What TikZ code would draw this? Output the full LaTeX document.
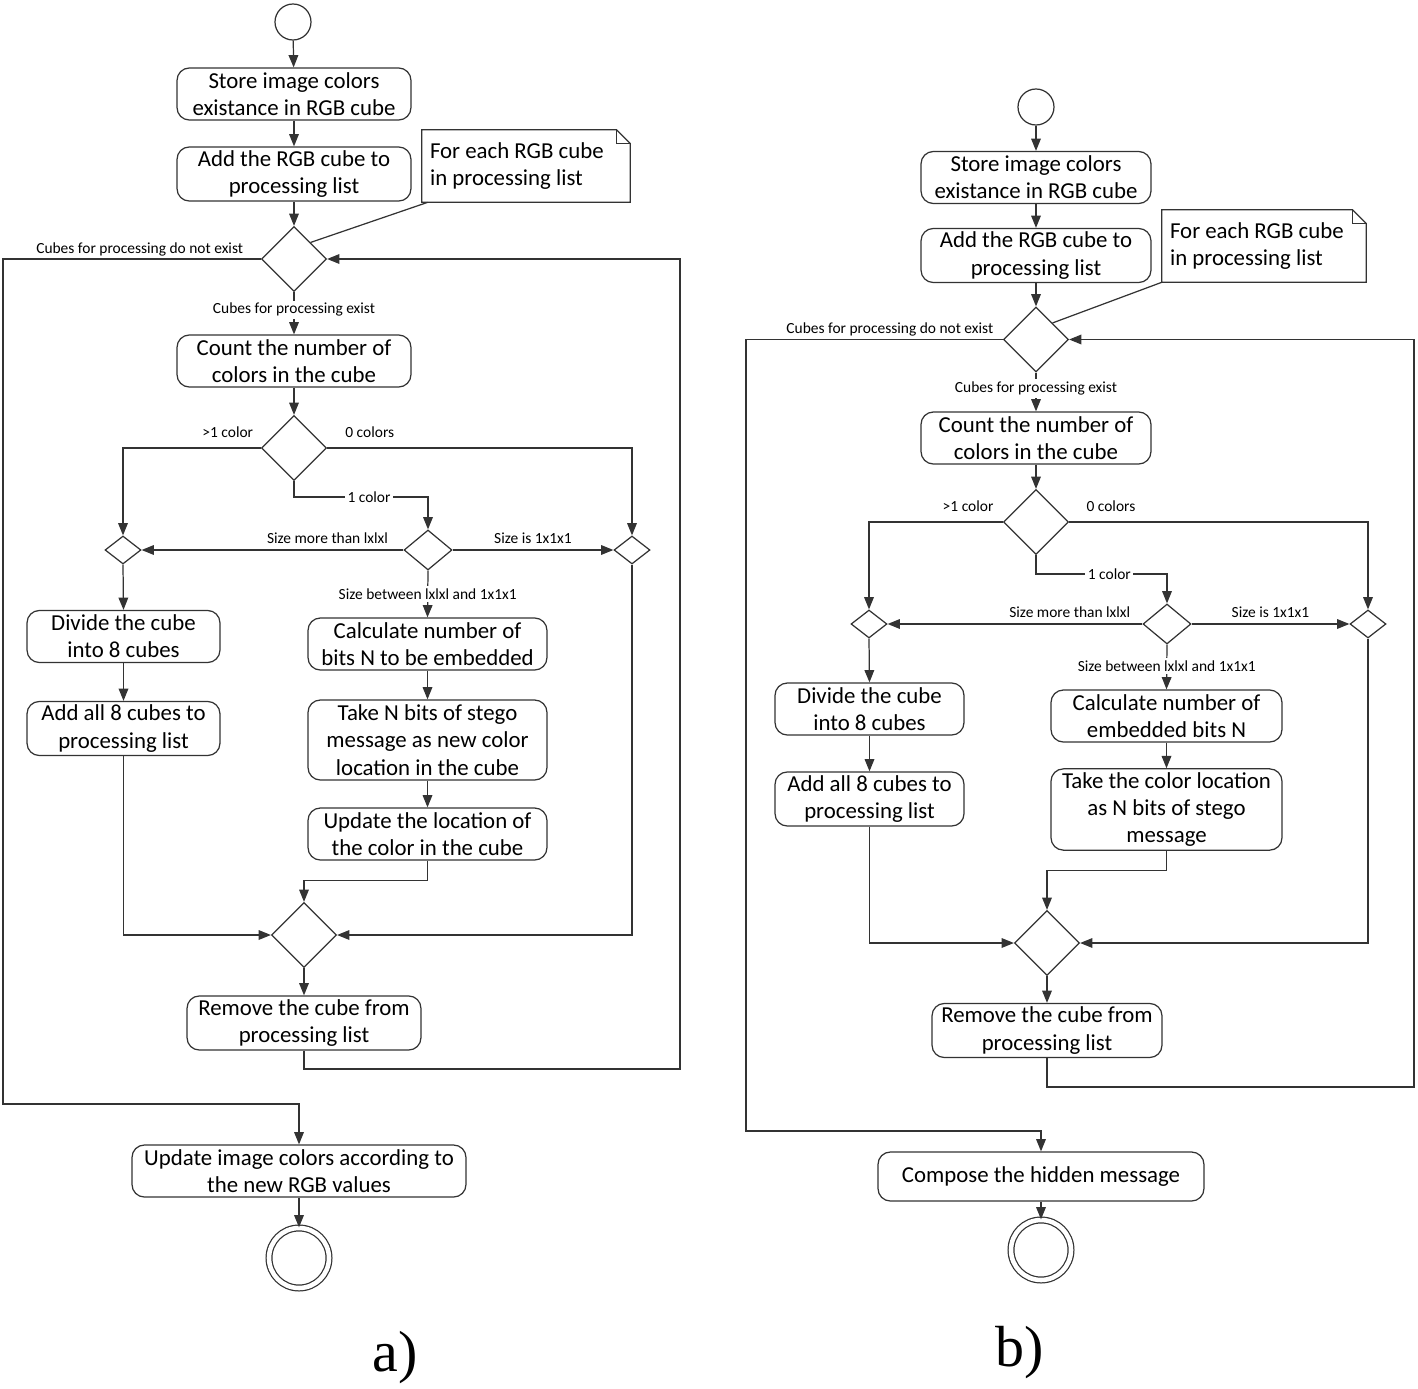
\documentclass[tikz,border=0pt]{standalone}
\usepackage{fontspec}
\setmainfont{Carlito}
\newfontfamily\capfont{Liberation Serif}
\usetikzlibrary{shapes.geometric,arrows.meta,calc}

\begin{document}
\begin{tikzpicture}[x=0.02cm,y=-0.02cm,
    act/.style={draw=black!80,line width=0.7pt,rounded corners=7pt,minimum width=4.68cm,minimum height=1.04cm,align=center,inner sep=2pt,font=\fontsize{13}{15.5}\selectfont},
    dec/.style={diamond,draw=black!80,line width=0.7pt,minimum width=1.3cm,minimum height=1.3cm,inner sep=0pt},
    middec/.style={diamond,draw=black!80,line width=0.7pt,minimum width=0.96cm,minimum height=0.8cm,inner sep=0pt},
    smalldec/.style={diamond,draw=black!80,line width=0.7pt,minimum width=0.72cm,minimum height=0.56cm,inner sep=0pt},
    note/.style={minimum height=1.44cm,inner xsep=0.16cm,inner ysep=0pt,align=flush left,font=\fontsize{13}{15.5}\selectfont},
    initial/.style={circle,draw=black!80,line width=0.7pt,minimum size=0.72cm,inner sep=0pt},
    final/.style={circle,draw=black!80,line width=0.7pt,double,double distance=2.6pt,minimum size=1.2cm,inner sep=0pt},
    line/.style={draw=black!80,line width=0.7pt},
    flow/.style={line,-{Triangle[length=7pt,width=5.5pt]}},
    lbl/.style={font=\fontsize{8.8}{10}\selectfont,inner sep=1.5pt},
    onlbl/.style={lbl,fill=white}]
  \useasboundingbox (0,0) rectangle (1418,1389);

  % a)
  \node[initial] (startA) at (293,22) {};
  \node[act] (storeA) at (294,94) {Store image colors\\existance in RGB cube};
  \node[act] (addA) at (294,174) {Add the RGB cube to\\processing list};
  \node[note,text width=3.84cm] (noteA) at (526,166) {For each RGB cube\\in processing list};
  \node[dec] (loopA) at (294,259) {};
  \node[act] (countA) at (294,361) {Count the number of\\colors in the cube};
  \node[dec] (colorsA) at (294,448) {};
  \node[smalldec] (leftA) at (123,550) {};
  \node[middec] (sizeA) at (428,550) {};
  \node[smalldec] (rightA) at (632,550) {};
  \node[act,minimum width=3.86cm] (divideA) at (123.5,636.5) {Divide the cube\\into 8 cubes};
  \node[act,minimum width=3.86cm] (addallA) at (123.5,728.5) {Add all 8 cubes to\\processing list};
  \node[act,minimum width=4.78cm] (calcA) at (427.5,644) {Calculate number of\\bits N to be embedded};
  \node[act,minimum width=4.78cm,minimum height=1.6cm] (takeA) at (427.5,740) {Take N bits of stego\\message as new color\\location in the cube};
  \node[act,minimum width=4.78cm] (updA) at (427.5,834) {Update the location of\\the color in the cube};
  \node[dec] (joinA) at (304,935) {};
  \node[act] (removeA) at (304,1023) {Remove the cube from\\processing list};
  \node[act,minimum width=6.68cm] (finalA) at (299,1171) {Update image colors according to\\the new RGB values};
  \node[final] (endA) at (299,1258) {};
  \node[font=\capfont\fontsize{33}{36}\selectfont] (capA) at (395,1358) {a)};

  \draw[line] (noteA.south west) -- (noteA.north west) -- ($(noteA.north east)+(-14,0)$) -- ($(noteA.north east)+(0,14)$) -- (noteA.south east) -- cycle;
  \draw[line] ($(noteA.north east)+(-14,0)$) -- ($(noteA.north east)+(-14,14)$) -- ($(noteA.north east)+(0,14)$);
  \draw[line] ($(noteA.south west)+(6,0)$) -- (loopA.north east);

  \draw[flow] (startA) -- (storeA);
  \draw[flow] (storeA) -- (addA);
  \draw[flow] (addA) -- (loopA);
  \draw[flow] (loopA) -- (countA) node[onlbl,pos=0.42] {Cubes for processing exist};
  \draw[flow] (loopA.west) -| (3,1104) node[lbl,above,pos=0.235] {Cubes for processing do not exist} -| (finalA.north);
  \draw[flow] (countA) -- (colorsA);
  \draw[flow] (colorsA.west) -| (leftA.north) node[lbl,above,yshift=4pt,pos=0.12] {>1 color};
  \draw[flow] (colorsA.east) -| (rightA.north) node[lbl,above,yshift=4pt,pos=0.07] {0 colors};
  \draw[flow] (colorsA.south) -- ++(0,16) -| (sizeA.north) node[onlbl,pos=0.28] {1 color};
  \draw[flow] (sizeA.west) -- (leftA.east) node[lbl,above,yshift=2pt,pos=0.29] {Size more than lxlxl};
  \draw[flow] (sizeA.east) -- (rightA.west) node[lbl,above,yshift=2pt,pos=0.5] {Size is 1x1x1};
  \draw[flow] (sizeA.south) -- (calcA.north) node[onlbl,pos=0.5] {Size between lxlxl and 1x1x1};
  \draw[flow] (leftA.south) -- (divideA.north);
  \draw[flow] (divideA) -- (addallA);
  \draw[flow] (calcA) -- (takeA);
  \draw[flow] (takeA) -- (updA);
  \draw[flow] (updA.south) -- ++(0,20) -| (joinA.north);
  \draw[flow] (addallA.south) |- (joinA.west);
  \draw[flow] (rightA.south) |- (joinA.east);
  \draw[flow] (joinA) -- (removeA);
  \draw[flow] (removeA.south) |- (680,1069) |- (loopA.east);
  \draw[flow] (finalA) -- (endA);

  % b)
  \node[initial] (startB) at (1036,107) {};
  \node[act,minimum width=4.6cm] (storeB) at (1036,177.5) {Store image colors\\existance in RGB cube};
  \node[act,minimum width=4.6cm] (addB) at (1036,255.5) {Add the RGB cube to\\processing list};
  \node[note,text width=3.76cm] (noteB) at (1264,246) {For each RGB cube\\in processing list};
  \node[dec] (loopB) at (1036,339.5) {};
  \node[act,minimum width=4.6cm] (countB) at (1036,438) {Count the number of\\colors in the cube};
  \node[dec] (colorsB) at (1036,522) {};
  \node[smalldec] (leftB) at (869,624) {};
  \node[middec] (sizeB) at (1167,624) {};
  \node[smalldec] (rightB) at (1368,624) {};
  \node[act,minimum width=3.78cm] (divideB) at (869.5,709) {Divide the cube\\into 8 cubes};
  \node[act,minimum width=3.78cm] (addallB) at (869.5,799) {Add all 8 cubes to\\processing list};
  \node[act,minimum width=4.62cm] (calcB) at (1166.5,716) {Calculate number of\\embedded bits N};
  \node[act,minimum width=4.62cm,minimum height=1.62cm] (takeB) at (1166.5,809.5) {Take the color location\\as N bits of stego\\message};
  \node[dec] (joinB) at (1047,943) {};
  \node[act,minimum width=4.6cm] (removeB) at (1047,1030.5) {Remove the cube from\\processing list};
  \node[act,minimum width=6.52cm,minimum height=0.98cm] (finalB) at (1041,1176.5) {Compose the hidden message};
  \node[final] (endB) at (1041,1250) {};
  \node[font=\capfont\fontsize{33}{36}\selectfont] (capB) at (1020,1353) {b)};

  \draw[line] (noteB.south west) -- (noteB.north west) -- ($(noteB.north east)+(-14,0)$) -- ($(noteB.north east)+(0,14)$) -- (noteB.south east) -- cycle;
  \draw[line] ($(noteB.north east)+(-14,0)$) -- ($(noteB.north east)+(-14,14)$) -- ($(noteB.north east)+(0,14)$);
  \draw[line] (noteB.south west) -- (loopB.north east);

  \draw[flow] (startB) -- (storeB);
  \draw[flow] (storeB) -- (addB);
  \draw[flow] (addB) -- (loopB);
  \draw[flow] (loopB) -- (countB) node[onlbl,pos=0.41] {Cubes for processing exist};
  \draw[flow] (loopB.west) -| (746,1131) node[lbl,above,pos=0.22] {Cubes for processing do not exist} -| (finalB.north);
  \draw[flow] (countB) -- (colorsB);
  \draw[flow] (colorsB.west) -| (leftB.north) node[lbl,above,yshift=4pt,pos=0.13] {>1 color};
  \draw[flow] (colorsB.east) -| (rightB.north) node[lbl,above,yshift=4pt,pos=0.07] {0 colors};
  \draw[flow] (colorsB.south) -- ++(0,19) -| (sizeB.north) node[onlbl,pos=0.28] {1 color};
  \draw[flow] (sizeB.west) -- (leftB.east) node[lbl,above,yshift=2pt,pos=0.285] {Size more than lxlxl};
  \draw[flow] (sizeB.east) -- (rightB.west) node[lbl,above,yshift=2pt,pos=0.5] {Size is 1x1x1};
  \draw[flow] (sizeB.south) -- (calcB.north) node[onlbl,pos=0.48] {Size between lxlxl and 1x1x1};
  \draw[flow] (leftB.south) -- (divideB.north);
  \draw[flow] (divideB) -- (addallB);
  \draw[flow] (calcB) -- (takeB);
  \draw[flow] (takeB.south) -- ++(0,20) -| (joinB.north);
  \draw[flow] (addallB.south) |- (joinB.west);
  \draw[flow] (rightB.south) |- (joinB.east);
  \draw[flow] (joinB) -- (removeB);
  \draw[flow] (removeB.south) |- (1414,1087) |- (loopB.east);
  \draw[flow] (finalB) -- (endB);
\end{tikzpicture}
\end{document}
